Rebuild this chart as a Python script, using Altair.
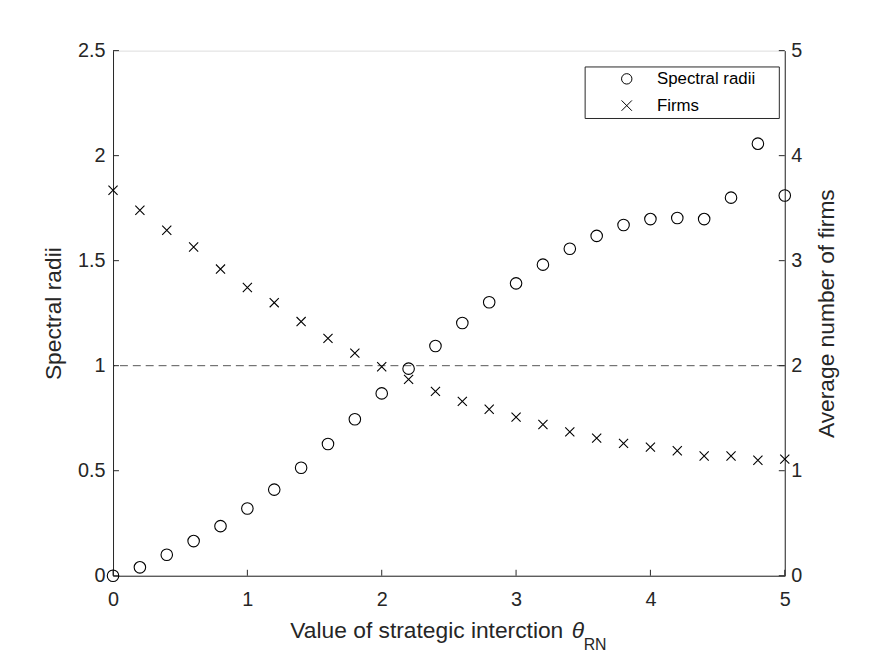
import altair as alt
import pandas as pd

theta = [0.0, 0.2, 0.4, 0.6, 0.8, 1.0, 1.2, 1.4, 1.6, 1.8, 2.0, 2.2, 2.4,
         2.6, 2.8, 3.0, 3.2, 3.4, 3.6, 3.8, 4.0, 4.2, 4.4, 4.6, 4.8, 5.0]
spectral_radii = [0.0, 0.04, 0.10, 0.165, 0.236, 0.32, 0.41, 0.514, 0.627, 0.745,
                  0.868, 0.986, 1.094, 1.203, 1.302, 1.392, 1.481, 1.557, 1.618,
                  1.67, 1.698, 1.703, 1.698, 1.80, 2.057, 1.81]
firms = [3.67, 3.48, 3.29, 3.13, 2.92, 2.745, 2.60, 2.42, 2.26, 2.12, 1.99,
         1.87, 1.755, 1.66, 1.585, 1.51, 1.44, 1.37, 1.31, 1.26, 1.225, 1.19,
         1.14, 1.14, 1.10, 1.11]
x_ticks = [0, 1, 2, 3, 4, 5]
left_ticks = [0, 0.5, 1, 1.5, 2, 2.5]
right_ticks = [0, 1, 2, 3, 4, 5]
series_names = ["Spectral radii", "Firms"]

W, H = 678, 530
FONT = "Liberation Sans"
AX = "#262626"
TICK_LEN = 6

df_sr = pd.DataFrame({"theta": theta, "value": spectral_radii, "series": series_names[0]})
df_f = pd.DataFrame({"theta": theta, "value": firms, "series": series_names[1]})

xscale = alt.Scale(domain=[0, 5], nice=False, zero=False)
ylscale = alt.Scale(domain=[0, 2.5], nice=False)
yrscale = alt.Scale(domain=[0, 5], nice=False)
shape_scale = alt.Scale(domain=series_names,
                        range=["circle", "M-1,-1L1,1M-1,1L1,-1"])

xaxis = alt.Axis(values=x_ticks, ticks=False, grid=False, domainColor=AX,
                 labelColor=AX, labelFontSize=20, labelFont=FONT, labelPadding=14,
                 labelFlush=False, title=None, format="~g", orient="bottom")
ylaxis = alt.Axis(values=left_ticks, ticks=False, grid=False, domainColor=AX,
                  labelColor=AX, labelFontSize=20, labelFont=FONT,
                  labelPadding=8, labelFlush=False, format="~g",
                  title="Spectral radii", titleFont=FONT,
                  titleFontSize=23, titleFontWeight="normal", titleColor=AX,
                  titlePadding=12, orient="left")
yraxis = alt.Axis(values=right_ticks, ticks=False, grid=False, domainColor=AX,
                  labelColor=AX, labelFontSize=20, labelFont=FONT,
                  labelPadding=6, labelFlush=False, format="~g",
                  title="Average number of firms",
                  titleFont=FONT, titleFontSize=23, titleFontWeight="normal",
                  titleColor=AX, titlePadding=37, titleAngle=270,
                  orient="right")

legend = alt.Legend(
    orient="none", legendX=476, legendY=16, title=".",
    titleOrient="right", titlePadding=14, titleFontSize=18, titleColor="transparent",
    strokeColor="#262626", fillColor="white", padding=4,
    labelFont=FONT, labelFontSize=17, labelColor="#000",
    symbolOffset=30, labelOffset=22, rowPadding=9, symbolSize=110,
    symbolStrokeColor="#000", symbolStrokeWidth=1, symbolFillColor="transparent",
)

circles = alt.Chart(df_sr).mark_point(filled=False, color="#000", strokeWidth=1.1,
                                      size=135, opacity=1, clip=False).encode(
    x=alt.X("theta:Q", scale=xscale, axis=xaxis),
    y=alt.Y("value:Q", scale=ylscale, axis=ylaxis),
    shape=alt.Shape("series:N", scale=shape_scale, legend=legend),
)

dash = alt.Chart(pd.DataFrame({"value": [1.0]})).mark_rule(
    color="#555555", strokeWidth=1, strokeDash=[8, 5]).encode(
    y=alt.Y("value:Q", scale=ylscale, axis=ylaxis))

lt = alt.Chart(pd.DataFrame({"value": left_ticks})).mark_rule(color=AX, strokeWidth=1).encode(
    y=alt.Y("value:Q", scale=ylscale, axis=ylaxis),
    x=alt.value(0), x2=alt.value(TICK_LEN))

xt = alt.Chart(pd.DataFrame({"theta": x_ticks})).mark_rule(color=AX, strokeWidth=1).encode(
    x=alt.X("theta:Q", scale=xscale, axis=xaxis),
    y=alt.value(H), y2=alt.value(H - TICK_LEN))

left_layer = alt.layer(dash, lt, xt, circles)

crosses = alt.Chart(df_f).mark_point(filled=False, color="#000", strokeWidth=1.1,
                                     size=85, opacity=1, clip=False).encode(
    x=alt.X("theta:Q", scale=xscale, axis=xaxis),
    y=alt.Y("value:Q", scale=yrscale, axis=yraxis),
    shape=alt.Shape("series:N", scale=shape_scale, legend=legend),
)

rt = alt.Chart(pd.DataFrame({"value": right_ticks})).mark_rule(color=AX, strokeWidth=1).encode(
    y=alt.Y("value:Q", scale=yrscale, axis=yraxis),
    x=alt.value(W - TICK_LEN), x2=alt.value(W))

right_layer = alt.layer(rt, crosses)

title_main = alt.Chart(pd.DataFrame({"t": ["Value of strategic interction "]})).mark_text(
    font=FONT, fontSize=23, color=AX, align="left", baseline="alphabetic").encode(
    text="t:N", x=alt.value(179), y=alt.value(593))
title_theta = alt.Chart(pd.DataFrame({"t": ["\u03b8"]})).mark_text(
    font=FONT, fontSize=23, fontStyle="italic", color=AX, align="left",
    baseline="alphabetic").encode(text="t:N", x=alt.value(463), y=alt.value(593))
title_sub = alt.Chart(pd.DataFrame({"t": ["RN"]})).mark_text(
    font=FONT, fontSize=16, color=AX, align="left", baseline="alphabetic").encode(
    text="t:N", x=alt.value(475), y=alt.value(605))

chart = alt.layer(left_layer, right_layer, title_main, title_theta, title_sub).resolve_scale(
    y="independent"
).properties(
    width=W, height=H,
    autosize=alt.AutoSizeParams(type="none"),
    padding={"left": 106, "top": 40, "right": 83, "bottom": 78},
).configure_view(stroke=None).configure(background="white")

chart.save("out.html", embed_options={"renderer": "svg", "actions": False})
